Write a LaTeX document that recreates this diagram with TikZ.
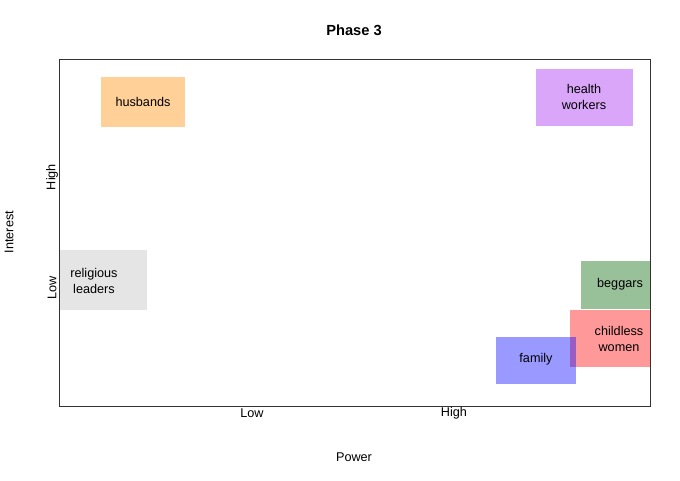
\documentclass[tikz,border=0pt]{standalone}
\usepackage{fontspec}
\setmainfont{Liberation Sans}
\definecolor{cdarkorange}{RGB}{255,140,0}
\definecolor{cpurple}{RGB}{160,32,240}
\definecolor{cdarkgreen}{RGB}{0,100,0}
\definecolor{cgray}{RGB}{190,190,190}
\begin{document}
\begin{tikzpicture}[x=0.75pt,y=-0.75pt,
  lbl/.style={font=\fontsize{9.5}{12}\selectfont, align=center, inner sep=0pt},
  boxfill/.style={fill=#1, fill opacity=0.4, draw=none}]
\useasboundingbox (0,0) rectangle (680,480);
% boxes
\path[boxfill=cgray] (59,250) rectangle (147,310);
\path[boxfill=cdarkorange] (101,77) rectangle (185,127);
\path[boxfill=cpurple] (536,69) rectangle (633,126);
\path[boxfill=cdarkgreen] (581,261) rectangle (650,309);
\path[boxfill=red] (570,310) rectangle (650,367);
\path[boxfill=blue] (496,337) rectangle (576,384);
% frame
\draw[line width=0.75pt, black!80] (59,59) rectangle (650,406);
% box labels
\node[lbl] (husb) at (143,102) {husbands};
\node[lbl] (hw) at (584,97) {health\\workers};
\node[lbl] (rel) at (94,281) {religious\\leaders};
\node[lbl] (beg) at (620,284) {beggars};
\node[lbl] (cw) at (619,339) {childless\\women};
\node[lbl] (fam) at (536,359) {family};
% axes text
\node[lbl] (title) at (354,30) {\fontsize{11}{12}\selectfont\bfseries Phase 3};
\node[lbl] (xlow) at (252,413) {Low};
\node[lbl] (xhigh) at (454,413) {High};
\node[lbl] (xlab) at (354,457) {Power};
\node[lbl, rotate=90] (ylow) at (52,288) {Low};
\node[lbl, rotate=90] (yhigh) at (52,177) {High};
\node[lbl, rotate=90] (ylab) at (9,232) {Interest};
\end{tikzpicture}
\end{document}
